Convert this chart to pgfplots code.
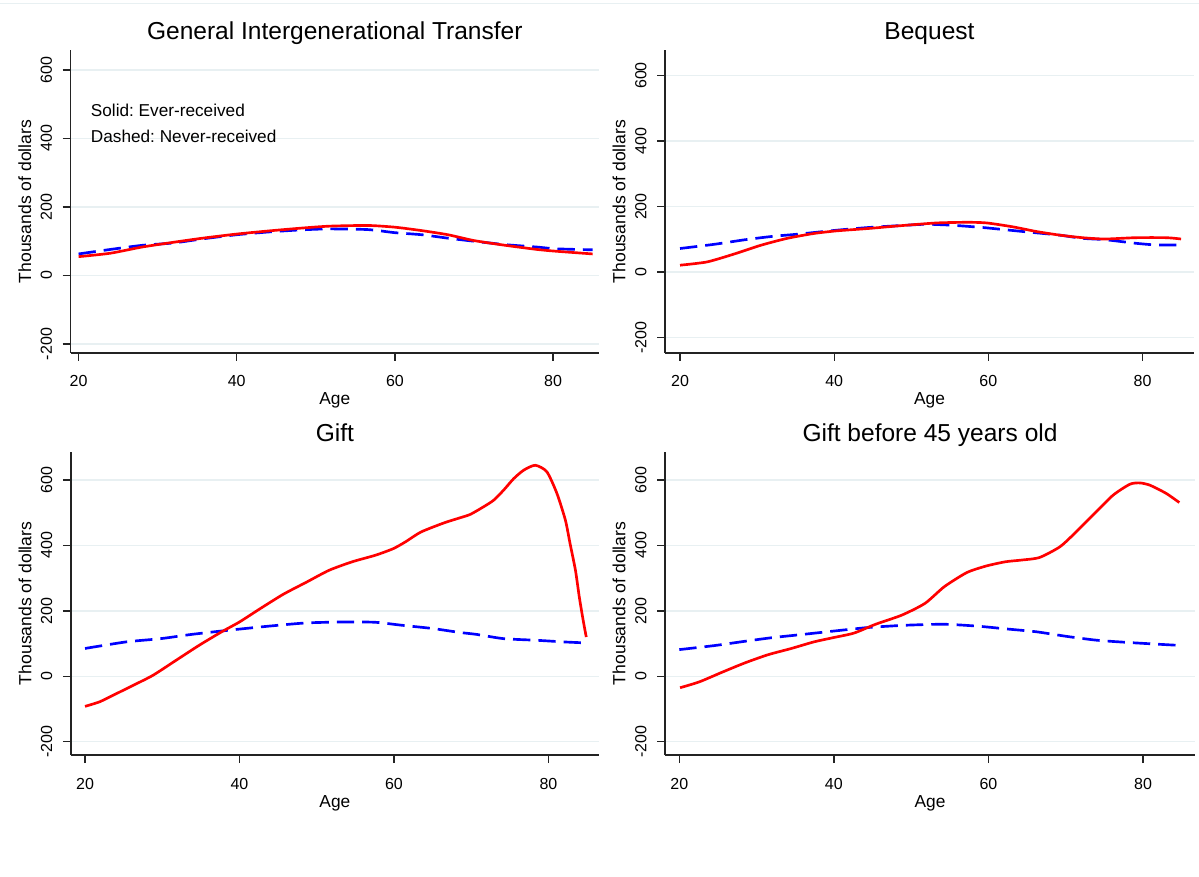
\documentclass[border=0pt]{standalone}
\usepackage{fontspec}
\setmainfont{Liberation Sans}
\usepackage{pgfplots}
\pgfplotsset{compat=1.18}
\frenchspacing
\definecolor{gridc}{RGB}{232,240,242}
\definecolor{axc}{RGB}{35,35,35}
\definecolor{sred}{RGB}{255,0,0}
\definecolor{sblue}{RGB}{0,0,255}

\pgfplotsset{
  stpanel/.style={
    scale only axis,
    anchor=north west,
    axis x line*=bottom,
    axis y line*=left,
    axis line style={-, line width=1.1pt, color=axc},
    xtick={20,40,60,80},
    ytick={-200,0,200,400,600},
    xtick pos=left, ytick pos=left,
    tick align=outside,
    major tick length=6pt,
    tick style={line width=1pt, color=axc},
    minor tick num=0,
    ymajorgrids,
    grid style={color=gridc, line width=1pt},
    /pgf/number format/assume math mode=true,
    ticklabel style={font=\fontsize{12}{14}\selectfont, text=black},
    yticklabel style={rotate=90, anchor=base, inner sep=0pt},
    xticklabel style={anchor=base, inner sep=0pt},
    yticklabel shift=8pt,
    xticklabel shift=19.5pt,
    xlabel={Age},
    ylabel={Thousands of dollars},
    every axis x label/.style={at={(axis description cs:0.5,0)}, anchor=base, yshift=-39pt, inner sep=0pt, font=\fontsize{13}{15}\selectfont},
    every axis y label/.style={at={(axis description cs:-0.0747,0.5)}, rotate=90, anchor=base, inner sep=0pt, font=\fontsize{13.2}{15}\selectfont},
    title style={at={(axis description cs:0.5,1)}, anchor=base, yshift=1.5pt, inner sep=0pt, font=\fontsize{18.4}{22}\selectfont},
    clip=false,
  },
  redl/.style={sred, line width=2pt, smooth, tension=0.4},
  bluel/.style={sblue, line width=2pt, dash pattern=on 13pt off 6pt, smooth, tension=0.4},
}

\begin{document}
\begin{tikzpicture}
\path[use as bounding box] (0,0) rectangle (899.25pt,657.75pt);
\draw[gridc, line width=0.75pt] (0,654.75pt) -- (899.25pt,654.75pt);

% Panel 1
\begin{axis}[stpanel, at={(53.0pt,620.25pt)}, width=396.2pt, height=227.25pt,
  xmin=19.0, xmax=85.8, ymin=-226, ymax=658,
  title={General Intergenerational Transfer}]
\addplot[bluel] table {
20 63
24 76
28 88
32 95
35.7 107
40 119
44 127
48 133
51.7 136
56.6 134
60 125
63.4 119
66.7 109
70 100
74 90
78 83
80.3 78
85 75
};
\addplot[redl] table {
20 55
24 65
28 83
32 97
35.7 109
40 121
44 130
48 138
51.7 144
56.6 146
60 141
63.4 131
66.7 119
70 102
74 88
78 76
80.3 71
85 63
};
\node[anchor=west, inner sep=0pt, font=\fontsize{12.9}{15}\selectfont] at (axis description cs:0.0379,0.802) {Solid: Ever-received};
\node[anchor=west, inner sep=0pt, font=\fontsize{12.9}{15}\selectfont] at (axis description cs:0.0379,0.714) {Dashed: Never-received};
\end{axis}

% Panel 2
\begin{axis}[stpanel, at={(498.75pt,620.25pt)}, width=396.75pt, height=227.25pt,
  xmin=18.05, xmax=86.68, ymin=-247, ymax=678,
  title={Bequest}]
\addplot[bluel] table {
20 72
24.5 85
28.5 99
32 109
35.4 116
40.4 128
44.4 136
49.3 143
52 146
55.3 143
59.3 136
62.3 129
65.7 121
69.2 113
72.2 103
75.1 99
79.1 88
81.7 83
85 83
};
\addplot[redl] table {
20 21
23.5 31
27 55
30.5 82
33.9 103
37.4 118
40.4 126
44.4 133
48.3 141
53.3 150
57.3 152
59.8 150
63.2 138
66.2 124
69.2 113
72.2 105
75.1 101
79.1 105
83.1 105
85 101
};
\end{axis}

% Panel 3
\begin{axis}[stpanel, at={(53.1pt,318.98pt)}, width=396.15pt, height=227.5pt,
  xmin=18.16, xmax=86.55, ymin=-240.7, ymax=686.5,
  title={Gift}]
\addplot[bluel] table {
20 85
25.3 105
29.8 115
33.8 128
38.7 141
43.7 153
48.6 163
53.6 166
57.6 165
61 156
65 146
68.5 134
70.7 128
74.2 115
78.5 110
82 105
84.8 102
};
\addplot[redl] table {
20 -92
21.9 -78
23.9 -55
26.3 -27
28.8 3
31.8 49
34.8 95
37.7 136
40 166
42.7 207
45.7 251
48.7 288
51.6 324
54.6 350
57.6 370
59.9 390
61.5 411
63.5 441
66.5 469
68.5 484
69.9 495
71.6 518
72.9 538
74.2 569
75.5 604
76.8 630
78.3 645
79.8 625
81.1 559
82.2 477
82.8 406
83.5 324
84.0 242
84.5 171
84.9 120
};
\end{axis}

% Panel 4
\begin{axis}[stpanel, at={(498.75pt,318.98pt)}, width=397.5pt, height=227.5pt,
  xmin=18.15, xmax=86.73, ymin=-240.7, ymax=686.5,
  title={Gift before 45 years old}]
\addplot[bluel] table {
20 81.5
24.6 94
28.5 107
32 118
36 128
39.9 138
44.4 149
49.3 156
54.3 159
58.7 153
62.2 145
66.2 136
70.1 122
74.1 110
79 102
85 94
};
\addplot[redl] table {
20.1 -35
22.6 -17
25.6 13
28.5 41
31.5 66
34.5 85
37.4 105
39.9 118
42.6 132
45.4 159
48.8 187
51.8 223
54.3 274
57.2 317
59.7 337
62.2 350
64.2 355
66.6 363
69.2 395
70.9 431
73.5 492
76.1 553
78.3 587
79.6 591
80.9 584
83.0 559
84.7 531
};
\end{axis}
\end{tikzpicture}
\end{document}
